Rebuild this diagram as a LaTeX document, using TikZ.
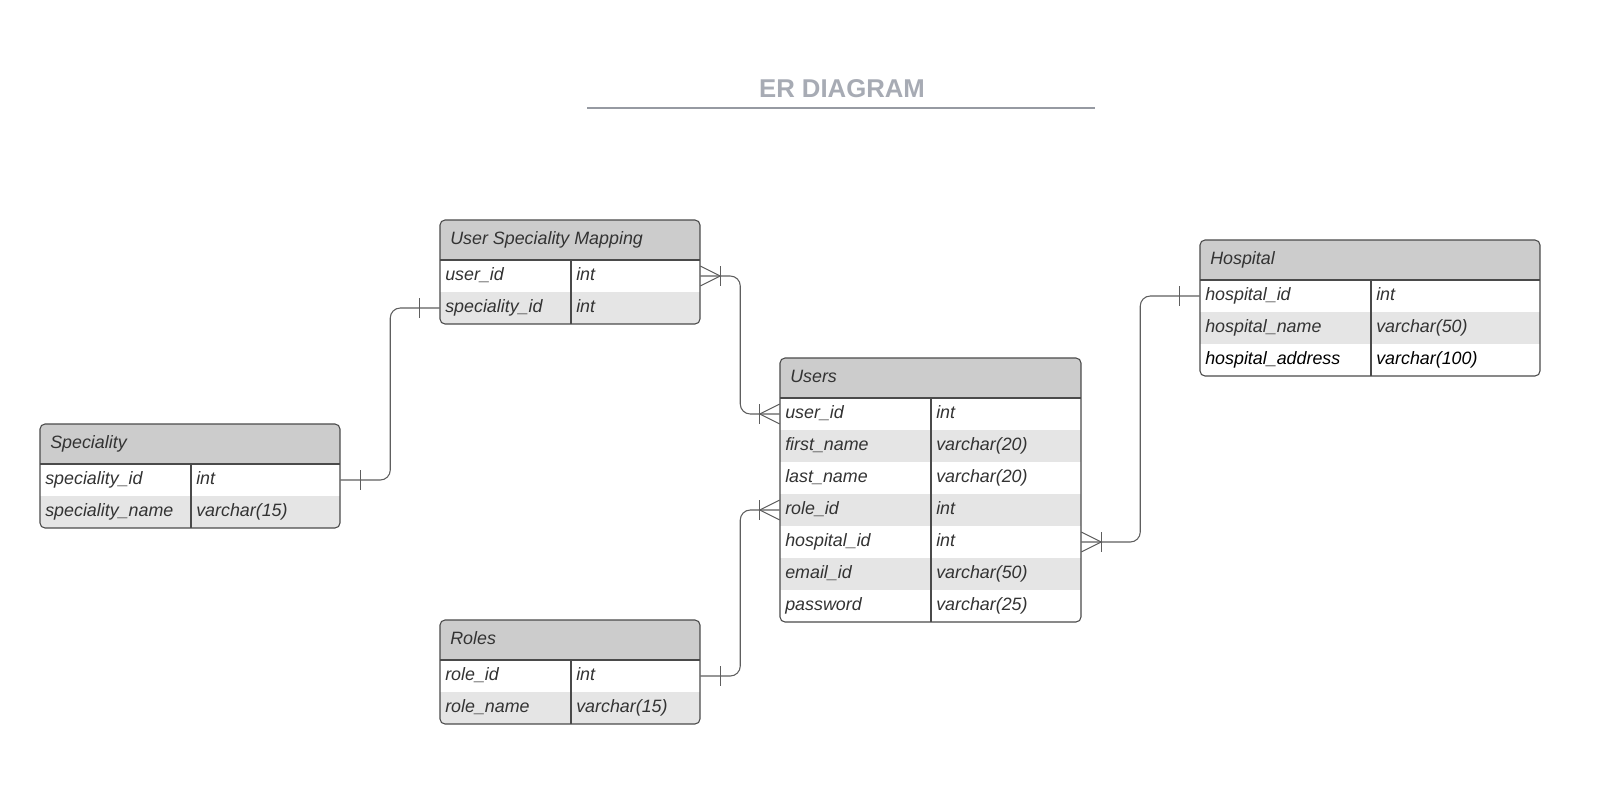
\documentclass[tikz,border=0pt]{standalone}
\usepackage{fontspec}
\setmainfont{Liberation Sans}
\usetikzlibrary{calc}
\definecolor{hdrgray}{HTML}{CCCCCC}
\definecolor{rowgray}{HTML}{E5E5E5}
\definecolor{bordercol}{HTML}{4A4A4A}
\definecolor{conncol}{HTML}{5E5E5E}
\definecolor{txtcol}{HTML}{333333}
\definecolor{titlecol}{HTML}{A7ABB4}
\tikzset{
  hdrbox/.style={rectangle, draw=none, fill=hdrgray, inner sep=0pt, minimum height=30pt},
  rowbox/.style={rectangle, draw=none, inner sep=0pt, minimum height=24pt},
  field/.style={anchor=base west, inner sep=0pt, text=txtcol, font=\fontsize{13.4}{16}\selectfont\itshape},
  ttl/.style={anchor=base west, inner sep=0pt, text=txtcol, font=\fontsize{13.4}{16}\selectfont\itshape},
  border/.style={draw=bordercol, line width=0.8pt},
  conn/.style={draw=conncol, line width=0.8pt},
  titlestyle/.style={anchor=base, inner sep=0pt, text=titlecol, font=\fontsize{19.3}{23}\selectfont\bfseries},
  titleline/.style={draw=titlecol!90!black, line width=1.5pt}
}
% #1 name, #2 x, #3 y, #4 width, #5 column offset, #6 rows, #7 title, #8 rows list
\newcommand{\ertab}[8]{%
  \pgfmathsetmacro{\tabH}{40+32*#6}%
  \begin{scope}
    \clip[rounded corners=3.75pt] (#2,#3) rectangle ++(#4,\tabH);
    \node[hdrbox, minimum width=#4*0.75pt] (#1-h) at ({#2+#4/2},{#3+20}) {};
    \foreach \a/\b [count=\i] in {#8} {
      \pgfmathsetmacro{\yc}{#3+40+32*\i-16}
      \ifodd\i \def\rowfill{white}\else\def\rowfill{rowgray}\fi
      \node[rowbox, fill=\rowfill, minimum width=#4*0.75pt] (#1-\i) at ({#2+#4/2},\yc) {};
      \node[field] (#1-\i-n) at ({#2+5},{\yc+4.8}) {\a};
      \node[field] (#1-\i-t) at ({#2+#5+5},{\yc+4.8}) {\b};
    }
  \end{scope}
  \node[ttl] (#1-title) at ({#2+10},{#3+24.5}) {#7};
  \draw[border] (#2,{#3+40}) -- ++(#4,0);
  \draw[border] ({#2+#5},{#3+40}) -- ++(0,32*#6);
  \draw[border, rounded corners=3.75pt] (#2,#3) rectangle ++(#4,\tabH);
}
% one bar: #1 anchor, #2 direction (+1 right, -1 left)
\newcommand{\onebar}[2]{%
  \draw[conn] ($(#1)+(#2*20,-10)$) -- ++(0,20);
}
\newcommand{\crowfoot}[2]{%
  \draw[conn] ($(#1)+(0,-10)$) -- ($(#1)+(#2*20,0)$) -- ($(#1)+(0,10)$);
  \draw[conn] ($(#1)+(#2*20,-10)$) -- ++(0,20);
}
\begin{document}
\begin{tikzpicture}[x=0.75pt, y=-0.75pt]
  \fill[white] (0,0) rectangle (1621,797);
  \useasboundingbox (0,0) rectangle (1621,797);

  \node[titlestyle] (title) at (842,97) {ER DIAGRAM};
  \coordinate (tl) at (587,107.5);
  \coordinate (tr) at (1095,107.5);
  \draw[titleline] (tl) -- (tr);

  \ertab{usm}{440}{220}{260}{131}{2}{User Speciality Mapping}{user\_id/int, speciality\_id/int}
  \ertab{users}{780}{358}{301}{151}{7}{Users}{user\_id/int, first\_name/varchar(20), last\_name/varchar(20), role\_id/int, hospital\_id/int, email\_id/varchar(50), password/varchar(25)}
  \ertab{hosp}{1200}{240}{340}{171}{3}{Hospital}{hospital\_id/int, hospital\_name/varchar(50), {\color{black}hospital\_address}/{\color{black}varchar(100)}}
  \ertab{spec}{40}{424}{300}{151}{2}{Speciality}{speciality\_id/int, speciality\_name/varchar(15)}
  \ertab{roles}{440}{620}{260}{131}{2}{Roles}{role\_id/int, role\_name/varchar(15)}

  % connectors
  \draw[conn, rounded corners=7.5pt] (spec-1.east) -- ++(50,0) |- (usm-2.west);
  \onebar{spec-1.east}{1}
  \onebar{usm-2.west}{-1}

  \draw[conn, rounded corners=7.5pt] (usm-1.east) -- ++(40,0) |- (users-1.west);
  \crowfoot{usm-1.east}{1}
  \crowfoot{users-1.west}{-1}

  \draw[conn, rounded corners=7.5pt] (roles-1.east) -- ++(40,0) |- (users-4.west);
  \onebar{roles-1.east}{1}
  \crowfoot{users-4.west}{-1}

  \draw[conn, rounded corners=7.5pt] (users-5.east) -- ++(59,0) |- (hosp-1.west);
  \crowfoot{users-5.east}{1}
  \onebar{hosp-1.west}{-1}
\end{tikzpicture}
\end{document}
